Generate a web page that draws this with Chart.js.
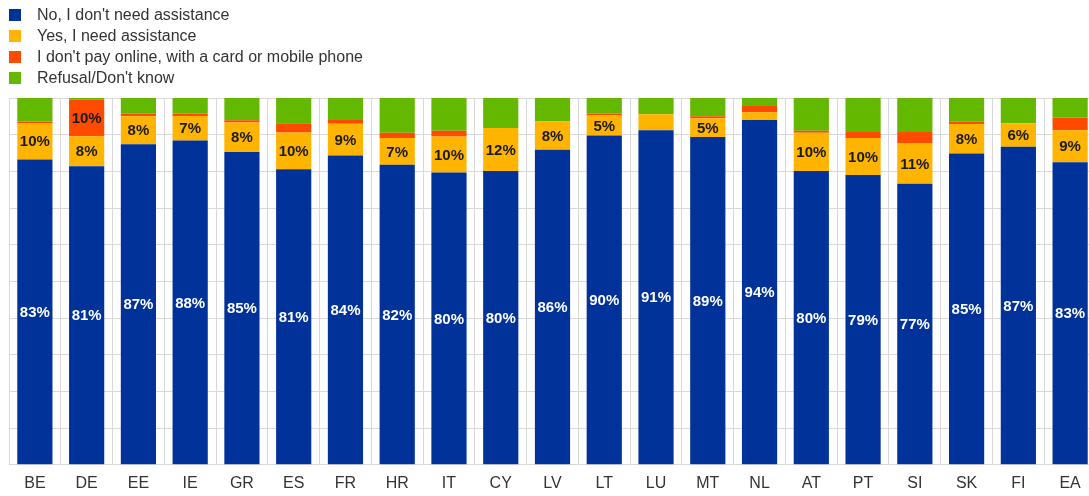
<!DOCTYPE html>
<html>
<head>
<meta charset="utf-8">
<script src="https://cdn.jsdelivr.net/npm/chart.js@4/dist/chart.umd.min.js"></script>
<style>
    html, body { margin: 0; padding: 0; background: #fff; overflow: hidden; }
    #wrap { position: relative; width: 1097px; height: 506px; }
    #legend { position: absolute; left: 9px; top: 5px; font: 16px "Liberation Sans", Arial, sans-serif; color: #333; }
    #legend div { height: 21px; line-height: 20px; white-space: nowrap; }
    #legend span { display: inline-block; width: 12px; height: 12px; margin-right: 16px; vertical-align: -1px; }
</style>
</head>
<body>
<div id="wrap">
    <canvas id="chart" width="1097" height="506"></canvas>
    <div id="legend"></div>
</div>
<script>
const categories = ["BE", "DE", "EE", "IE", "GR", "ES", "FR", "HR", "IT", "CY", "LV", "LT", "LU", "MT", "NL", "AT", "PT", "SI", "SK", "FI", "EA"];
const noAssistance = [83.2, 81.4, 87.4, 88.4, 85.3, 80.6, 84.3, 81.8, 79.7, 80.1, 85.9, 89.8, 91.2, 89.4, 94.0, 80.1, 79.0, 76.6, 84.9, 86.7, 82.5];
const yesAssistance = [10.0, 8.2, 7.6, 6.7, 8.0, 10.0, 8.7, 7.3, 9.8, 11.7, 7.7, 5.4, 4.4, 5.1, 2.1, 10.4, 10.1, 11.1, 8.0, 6.4, 8.7];
const noOnlinePay = [0.4, 9.9, 0.7, 0.7, 0.6, 2.5, 1.0, 1.4, 1.6, 0, 0, 0.5, 0, 0.5, 1.7, 0.6, 1.6, 3.0, 0.6, 0, 3.5];
const refusal = [6.4, 0.5, 4.3, 4.2, 6.1, 6.9, 6.0, 9.5, 8.9, 8.2, 6.4, 4.3, 4.4, 5.0, 2.2, 8.9, 9.3, 9.3, 6.5, 6.9, 5.3];

const seriesNames = ["No, I don't need assistance", "Yes, I need assistance", "I don't pay online, with a card or mobile phone", "Refusal/Don't know"];
const seriesColors = ["#003299", "#FFB400", "#FF4B00", "#65B800"];
const labelColors = ["#ffffff", "#1a1a1a", "#1a1a1a", null];

const legend = document.getElementById("legend");
seriesNames.forEach((name, i) => {
    const row = document.createElement("div");
    row.innerHTML = '<span style="background:' + seriesColors[i] + '"></span>' + name;
    legend.appendChild(row);
});

// draws the rounded percentages inside the segments
const segmentLabels = {
    id: "segmentLabels",
    afterDatasetsDraw(chart) {
        const ctx = chart.ctx;
        ctx.save();
        ctx.font = "bold 15px 'Liberation Sans', Arial, sans-serif";
        ctx.textAlign = "center";
        ctx.textBaseline = "middle";
        chart.data.datasets.forEach((ds, i) => {
            if (!labelColors[i]) return;
            const meta = chart.getDatasetMeta(i);
            meta.data.forEach((bar, j) => {
                const v = Math.round(ds.data[j]);
                if (v < 5) return;
                ctx.fillStyle = labelColors[i];
                ctx.fillText(v + "%", bar.x, (bar.y + bar.base) / 2 + 1);
            });
        });
        ctx.restore();
    }
};

const datasets = [noAssistance, yesAssistance, noOnlinePay, refusal].map((values, i) => ({
    label: seriesNames[i],
    data: values,
    backgroundColor: seriesColors[i],
    borderWidth: 0,
    categoryPercentage: 1,
    barPercentage: 0.68
}));

new Chart(document.getElementById("chart"), {
    type: "bar",
    data: { labels: categories, datasets: datasets },
    plugins: [segmentLabels],
    options: {
        responsive: false,
        animation: false,
        layout: { padding: { top: 98, left: 9, right: 1, bottom: 4 } },
        plugins: { legend: { display: false }, tooltip: { enabled: false } },
        scales: {
            x: {
                stacked: true,
                grid: { color: "#d9d9d9", drawTicks: false, offset: true },
                border: { color: "#d9d9d9" },
                ticks: { color: "#333", font: { size: 16, family: "'Liberation Sans', Arial, sans-serif" }, padding: 9 }
            },
            y: {
                stacked: true,
                min: 0,
                max: 100,
                grid: { color: "#d9d9d9", drawTicks: false },
                border: { display: false },
                ticks: { display: false, stepSize: 10 }
            }
        }
    }
});
</script>
</body>
</html>
